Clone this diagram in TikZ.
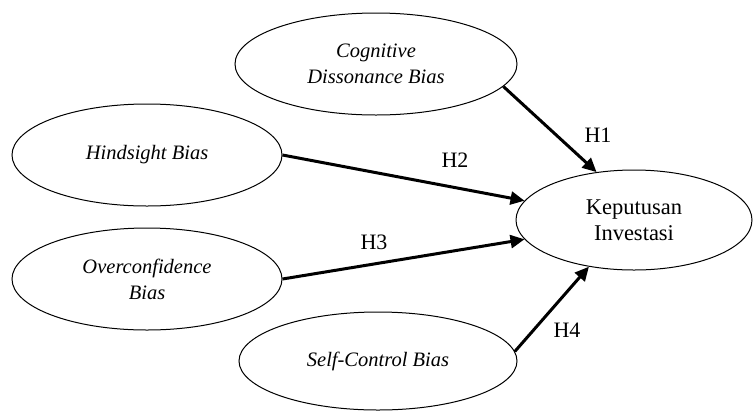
\documentclass[tikz,border=0pt]{standalone}
\usepackage{fontspec}
\setmainfont{Liberation Serif}
\usetikzlibrary{arrows.meta,shapes.geometric}
\begin{document}
\begin{tikzpicture}[x=1pt,y=-1pt,
  oval/.style={draw, line width=1pt, ellipse, inner sep=0pt, align=center, font=\fontsize{20.5}{26}\selectfont\itshape},
  conn/.style={line width=3pt, -{Triangle[length=14pt,width=13pt]}},
  lab/.style={font=\fontsize{22}{24}\selectfont}]
\useasboundingbox (0,0) rectangle (755,413);
\node[oval, minimum width=282pt, minimum height=102pt] (cd) at (376,64) {Cognitive\\Dissonance Bias};
\node[oval, minimum width=270pt, minimum height=102pt] (hb) at (147,155) {\raisebox{6pt}{Hindsight Bias}};
\node[oval, minimum width=270pt, minimum height=102pt] (ob) at (147,279) {Overconfidence\\Bias};
\node[oval, minimum width=278pt, minimum height=98pt] (sc) at (378,361) {Self-Control Bias};
\node[oval, minimum width=236pt, minimum height=100pt, font=\fontsize{22.5}{26}\selectfont] (ki) at (634,220) {Keputusan\\Investasi};
\draw[conn] (cd.-10) -- (ki.128);
\draw[conn] (hb.east) -- (ki.170);
\draw[conn] (ob.east) -- (ki.-170);
\draw[conn] (sc.4) -- (ki.-134);
\node[lab] (h1) at (598,135) {H1};
\node[lab] (h2) at (455,160) {H2};
\node[lab] (h3) at (374,242) {H3};
\node[lab] (h4) at (567,330) {H4};
\end{tikzpicture}
\end{document}
